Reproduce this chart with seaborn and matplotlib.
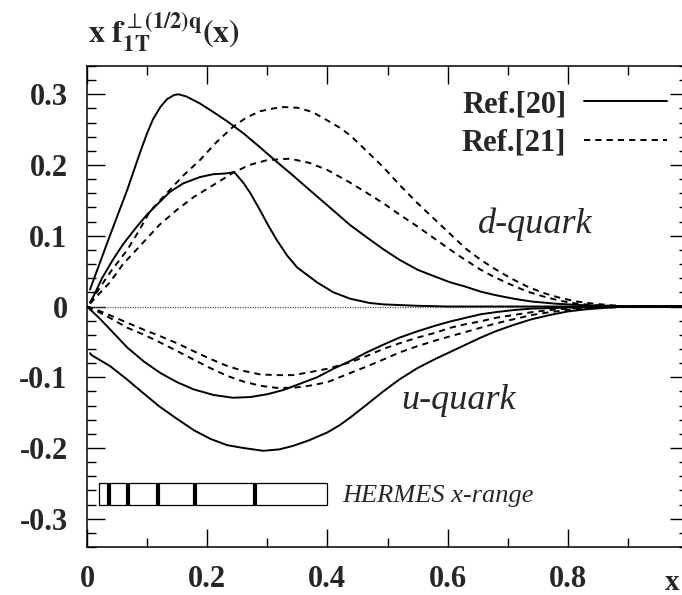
import matplotlib
matplotlib.use("Agg")
import matplotlib.pyplot as plt
import seaborn as sns
import pandas as pd
from matplotlib.patches import Rectangle
from matplotlib.ticker import MultipleLocator, FixedLocator, FixedFormatter

# ---------------- data ----------------
d20a_x = [0.005, 0.038, 0.067, 0.088, 0.1, 0.11, 0.122, 0.133, 0.145, 0.152, 0.165, 0.188, 0.21, 0.233,
          0.26, 0.288, 0.315, 0.343, 0.37, 0.4, 0.438, 0.47, 0.493, 0.52, 0.55, 0.58, 0.605, 0.63,
          0.655, 0.68, 0.71, 0.74, 0.78, 0.82, 0.86, 0.9, 1.0]
d20a_y = [0.024, 0.1, 0.165, 0.217, 0.245, 0.265, 0.282, 0.293, 0.299, 0.3, 0.297, 0.287, 0.275, 0.262,
          0.245, 0.225, 0.205, 0.185, 0.165, 0.143, 0.115, 0.095, 0.081, 0.066, 0.052, 0.042, 0.034, 0.028,
          0.021, 0.016, 0.011, 0.007, 0.004, 0.002, 0.001, 0.0, 0.0]

d20b_x = [0.005, 0.01, 0.025, 0.043, 0.06, 0.083, 0.1, 0.12, 0.138, 0.16, 0.188, 0.21, 0.23, 0.245,
          0.26, 0.272, 0.288, 0.3, 0.315, 0.333, 0.35, 0.372, 0.383, 0.41, 0.438, 0.47, 0.493, 0.55, 0.6, 1.0]
d20b_y = [0.006, 0.013, 0.04, 0.066, 0.088, 0.113, 0.13, 0.147, 0.162, 0.174, 0.183, 0.187, 0.188, 0.19,
          0.175, 0.16, 0.136, 0.117, 0.095, 0.072, 0.055, 0.041, 0.034, 0.02, 0.011, 0.005, 0.003, 0.001, 0.0, 0.0]

d21a_x = [0.005, 0.02, 0.04, 0.067, 0.085, 0.105, 0.138, 0.16, 0.188, 0.215, 0.243, 0.265, 0.288, 0.31,
          0.327, 0.35, 0.375, 0.4, 0.42, 0.438, 0.465, 0.493, 0.52, 0.55, 0.58, 0.605, 0.63, 0.655,
          0.677, 0.705, 0.733, 0.76, 0.788, 0.815, 0.843, 0.87, 0.9, 1.0]
d21a_y = [0.005, 0.025, 0.05, 0.08, 0.105, 0.135, 0.165, 0.185, 0.207, 0.232, 0.254, 0.267, 0.276, 0.28,
          0.282, 0.281, 0.275, 0.263, 0.253, 0.242, 0.22, 0.197, 0.172, 0.146, 0.122, 0.102, 0.082, 0.066,
          0.054, 0.04, 0.028, 0.019, 0.012, 0.007, 0.004, 0.002, 0.0, 0.0]

d21b_x = [0.005, 0.02, 0.038, 0.06, 0.093, 0.12, 0.15, 0.178, 0.205, 0.243, 0.27, 0.3, 0.338, 0.37,
          0.4, 0.438, 0.465, 0.493, 0.52, 0.55, 0.58, 0.605, 0.622, 0.655, 0.677, 0.705, 0.733, 0.76,
          0.788, 0.815, 0.843, 0.87, 0.9, 1.0]
d21b_y = [0.004, 0.018, 0.034, 0.06, 0.09, 0.115, 0.137, 0.155, 0.169, 0.189, 0.2, 0.207, 0.209, 0.203,
          0.193, 0.175, 0.161, 0.146, 0.13, 0.113, 0.095, 0.08, 0.07, 0.052, 0.042, 0.031, 0.021, 0.014,
          0.008, 0.004, 0.002, 0.001, 0.0, 0.0]

u20a_x = [0.0, 0.005, 0.02, 0.038, 0.067, 0.095, 0.122, 0.15, 0.177, 0.21, 0.243, 0.272, 0.3, 0.327,
          0.355, 0.383, 0.41, 0.438, 0.465, 0.493, 0.52, 0.55, 0.58, 0.605, 0.63, 0.655, 0.68, 0.71,
          0.74, 0.78, 0.82, 0.86, 1.0]
u20a_y = [0.0, -0.004, -0.016, -0.032, -0.058, -0.078, -0.094, -0.107, -0.117, -0.125, -0.129, -0.128,
          -0.124, -0.118, -0.109, -0.1, -0.088, -0.077, -0.065, -0.054, -0.044, -0.035, -0.027, -0.021,
          -0.016, -0.011, -0.008, -0.005, -0.003, -0.002, -0.001, 0.0, 0.0]

u20b_x = [0.005, 0.008, 0.038, 0.065, 0.093, 0.12, 0.15, 0.178, 0.205, 0.233, 0.26, 0.293, 0.32, 0.343,
          0.37, 0.4, 0.42, 0.438, 0.465, 0.493, 0.52, 0.55, 0.58, 0.605, 0.63, 0.655, 0.68, 0.71, 0.74,
          0.77, 0.8, 0.83, 0.86, 0.9, 1.0]
u20b_y = [-0.066, -0.069, -0.084, -0.102, -0.122, -0.141, -0.159, -0.175, -0.187, -0.196, -0.2, -0.204,
          -0.202, -0.197, -0.189, -0.178, -0.168, -0.157, -0.139, -0.12, -0.103, -0.087, -0.074, -0.064,
          -0.054, -0.044, -0.035, -0.026, -0.018, -0.012, -0.007, -0.004, -0.002, 0.0, 0.0]

u21a_x = [0.0, 0.02, 0.04, 0.067, 0.095, 0.122, 0.15, 0.177, 0.205, 0.233, 0.26, 0.288, 0.315, 0.343,
          0.37, 0.4, 0.438, 0.465, 0.493, 0.52, 0.55, 0.58, 0.605, 0.63, 0.655, 0.68, 0.71, 0.74, 0.77,
          0.8, 0.84, 0.88, 1.0]
u21a_y = [0.0, -0.006, -0.013, -0.023, -0.033, -0.042, -0.052, -0.063, -0.074, -0.084, -0.091, -0.096,
          -0.097, -0.097, -0.093, -0.088, -0.079, -0.07, -0.06, -0.052, -0.044, -0.037, -0.03, -0.025,
          -0.021, -0.016, -0.012, -0.008, -0.005, -0.003, -0.001, 0.0, 0.0]

u21b_x = [0.0, 0.02, 0.04, 0.067, 0.095, 0.122, 0.15, 0.177, 0.205, 0.233, 0.26, 0.288, 0.315, 0.343,
          0.37, 0.4, 0.438, 0.465, 0.493, 0.52, 0.55, 0.58, 0.605, 0.63, 0.655, 0.68, 0.71, 0.74, 0.77,
          0.8, 0.84, 0.88, 0.9, 1.0]
u21b_y = [0.0, -0.008, -0.017, -0.03, -0.04, -0.051, -0.063, -0.075, -0.087, -0.098, -0.106, -0.112,
          -0.115, -0.115, -0.112, -0.107, -0.094, -0.085, -0.075, -0.065, -0.056, -0.048, -0.042, -0.036,
          -0.03, -0.024, -0.018, -0.012, -0.008, -0.005, -0.002, -0.001, 0.0, 0.0]

hermes_range = [0.02, 0.4]
hermes_band = [-0.28, -0.25]
hermes_bins = [0.036, 0.069, 0.118, 0.18, 0.28]

xtick_vals = [0.0, 0.2, 0.4, 0.6, 0.8]
xtick_labels = ["0", "0.2", "0.4", "0.6", "0.8"]
ytick_vals = [-0.3, -0.2, -0.1, 0.0, 0.1, 0.2, 0.3]
ytick_labels = ["-0.3", "-0.2", "-0.1", "0", "0.1", "0.2", "0.3"]
legend_labels = ["Ref.[20]", "Ref.[21]"]

# ---------------- style ----------------
sns.set_style("ticks")
plt.rcParams["font.family"] = ["Liberation Serif", "DejaVu Serif"]
plt.rcParams["axes.unicode_minus"] = False
plt.rcParams["mathtext.fontset"] = "stix"

fig = plt.figure(figsize=(6.82, 5.95), dpi=100)
ax = fig.add_axes([87 / 682, 48 / 595, 601 / 682, 481 / 595])

LW = 1.4
dash = (0, (3.2, 2.6))

curves = [
    (d20a_x, d20a_y, "-", legend_labels[0]),
    (d20b_x, d20b_y, "-", None),
    (u20a_x, u20a_y, "-", None),
    (u20b_x, u20b_y, "-", None),
    (d21a_x, d21a_y, dash, legend_labels[1]),
    (d21b_x, d21b_y, dash, None),
    (u21a_x, u21a_y, dash, None),
    (u21b_x, u21b_y, dash, None),
]
handles = []
for xs, ys, ls, lab in curves:
    df = pd.DataFrame({"x": xs, "y": ys})
    sns.lineplot(data=df, x="x", y="y", ax=ax, color="black", lw=LW, linestyle=ls,
                 estimator=None, sort=False, legend=False)
    if lab is not None:
        handles.append((ax.get_lines()[-1], lab))

ax.axhline(0, color="0.35", lw=0.9, linestyle=(0, (1, 1)), zorder=1)

# HERMES box
ax.add_patch(Rectangle((hermes_range[0], hermes_band[0]), hermes_range[1] - hermes_range[0],
                       hermes_band[1] - hermes_band[0], facecolor="white", edgecolor="black", lw=0.9, zorder=3))
ax.vlines(hermes_bins, hermes_band[0], hermes_band[1], color="black", lw=3.0, zorder=4)
ax.text(0.425, -0.276, "HERMES x-range", fontsize=19, style="italic", fontweight="normal",
        va="baseline", ha="left")

ax.text(0.65, 0.104, "d-quark", fontsize=26, style="italic", fontweight="normal", va="baseline")
ax.text(0.522, -0.145, "u-quark", fontsize=26, style="italic", fontweight="normal", va="baseline")

ax.set_xlim(0, 1.0)
ax.set_ylim(-0.34, 0.34)
ax.xaxis.set_major_locator(FixedLocator(xtick_vals + [1.0]))
ax.xaxis.set_major_formatter(FixedFormatter(xtick_labels + [""]))
ax.xaxis.set_minor_locator(MultipleLocator(0.1))
ax.yaxis.set_major_locator(FixedLocator(ytick_vals))
ax.yaxis.set_major_formatter(FixedFormatter(ytick_labels))
ax.yaxis.set_minor_locator(MultipleLocator(0.02))
ax.tick_params(which="both", direction="in", top=True, right=True, width=1.0, color="black")
ax.tick_params(which="major", length=13, labelsize=22)
ax.tick_params(axis="x", which="major", pad=13)
ax.tick_params(axis="y", which="major", pad=14)
ax.tick_params(which="minor", length=6.5)
for lbl in ax.get_xticklabels() + ax.get_yticklabels():
    lbl.set_fontweight("bold")
for s in ax.spines.values():
    s.set_linewidth(1.1)
    s.set_color("black")
ax.set_xlabel("")
ax.set_ylabel("")

ax.text(0.974, -0.09, "x", transform=ax.get_xaxis_transform(), fontsize=21, fontweight="bold",
        ha="center", va="baseline")
fig.text(88 / 682, 1 - 43 / 595,
         r"$\mathbf{x\ f}_{\mathbf{1T}}^{\perp\mathbf{(1/2)q}}\mathbf{(x)}$",
         fontsize=23, ha="left", va="baseline")

leg = ax.legend([h for h, _ in handles], [l for _, l in handles], loc="upper right",
                bbox_to_anchor=(0.965, 0.95), frameon=False, markerfirst=False,
                handlelength=2.7, handletextpad=0.6, labelspacing=0.3, borderaxespad=0, borderpad=0,
                prop={"family": "Liberation Serif", "weight": "bold", "size": 22})

fig.savefig("out.png", dpi=100)
